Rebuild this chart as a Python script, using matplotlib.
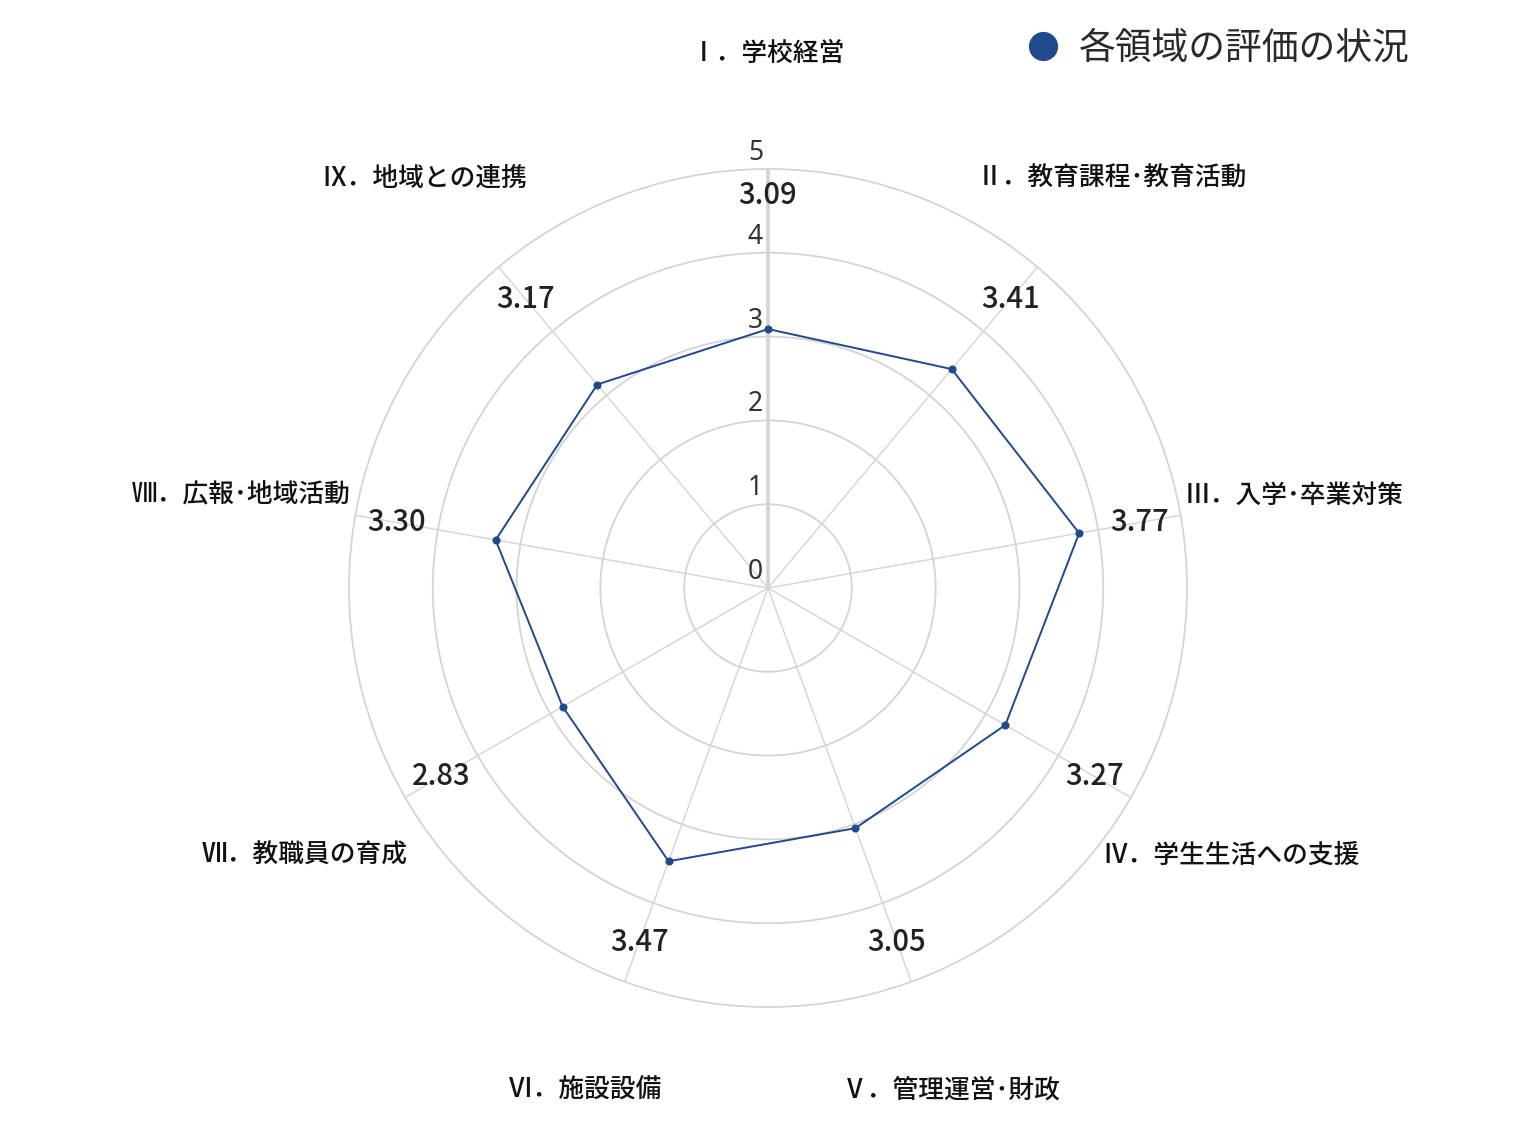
import numpy as np
import matplotlib
matplotlib.use('Agg')
import matplotlib.pyplot as plt
from matplotlib.lines import Line2D

plt.rcParams['font.family'] = ['Noto Sans CJK JP', 'DejaVu Sans']

# data
categories = ['Ⅰ．学校経営', 'Ⅱ．教育課程･教育活動', 'Ⅲ．入学･卒業対策',
              'Ⅳ．学生生活への支援', 'Ⅴ．管理運営･財政', 'Ⅵ．施設設備',
              'Ⅶ．教職員の育成', 'Ⅷ．広報･地域活動', 'Ⅸ．地域との連携']
scores = [3.09, 3.41, 3.77, 3.27, 3.05, 3.47, 2.83, 3.30, 3.17]
series_name = '各領域の評価の状況'
rticks = [0, 1, 2, 3, 4, 5]

line_color = '#1f4a8c'
grid_color = '#d4d4d4'

n = len(categories)
angles = np.linspace(0, 2 * np.pi, n, endpoint=False)

fig = plt.figure(figsize=(15.36, 11.38), dpi=100)
ax = fig.add_axes([0.2272, 0.1151, 0.5456, 0.7364], projection='polar')
ax.set_theta_zero_location('N')
ax.set_theta_direction(-1)
ax.set_ylim(0, 5)
ax.spines['polar'].set_visible(False)
ax.set_facecolor('none')

# grid
ax.set_yticks(rticks[1:])
ax.set_yticklabels([])
ax.set_xticks(angles)
ax.set_xticklabels([])
ax.yaxis.grid(True, color=grid_color, linewidth=1.3)
ax.xaxis.grid(True, color=grid_color, linewidth=1.0)
for gl in ax.yaxis.get_gridlines():
    gl.set_clip_on(False)
ax.tick_params(length=0)
ax.plot([0, 0], [0, 5], color=grid_color, linewidth=2.6, zorder=1)

# radial tick labels
for r in rticks:
    ax.annotate(str(r), xy=(0, r), xytext=(-5, 2), textcoords='offset pixels',
                ha='right', va='bottom', fontsize=19, color='#333333',
                family=['Noto Sans', 'DejaVu Sans'], annotation_clip=False)

# series
a_closed = np.append(angles, angles[0])
s_closed = np.append(scores, scores[0])
ax.plot(a_closed, s_closed, color=line_color, linewidth=1.4, zorder=3)
ax.plot(angles, scores, 'o', color=line_color, markersize=4.8, zorder=4)

# value labels
for i, (a, v) in enumerate(zip(angles, scores)):
    rr = 4.68 if i == 0 else 4.5
    ax.text(a, rr, f'{v:.2f}', ha='center', va='center', fontsize=21,
            fontweight='medium', color='#222222')

# category labels
for a, c in zip(angles, categories):
    ax.text(a, 6.38, c, ha='center', va='center', fontsize=18.5,
            fontweight='medium', color='#111111', clip_on=False)

handle = Line2D([], [], marker='o', linestyle='none', color=line_color,
                markersize=20)
fig.legend([handle], [series_name], loc='center left',
           bbox_to_anchor=(991 / 1536, 1 - 48 / 1138), frameon=False,
           fontsize=26.5, labelcolor='#2a2a2a', handletextpad=0.5,
           handlelength=1.0)

plt.savefig('out.png', dpi=100)
